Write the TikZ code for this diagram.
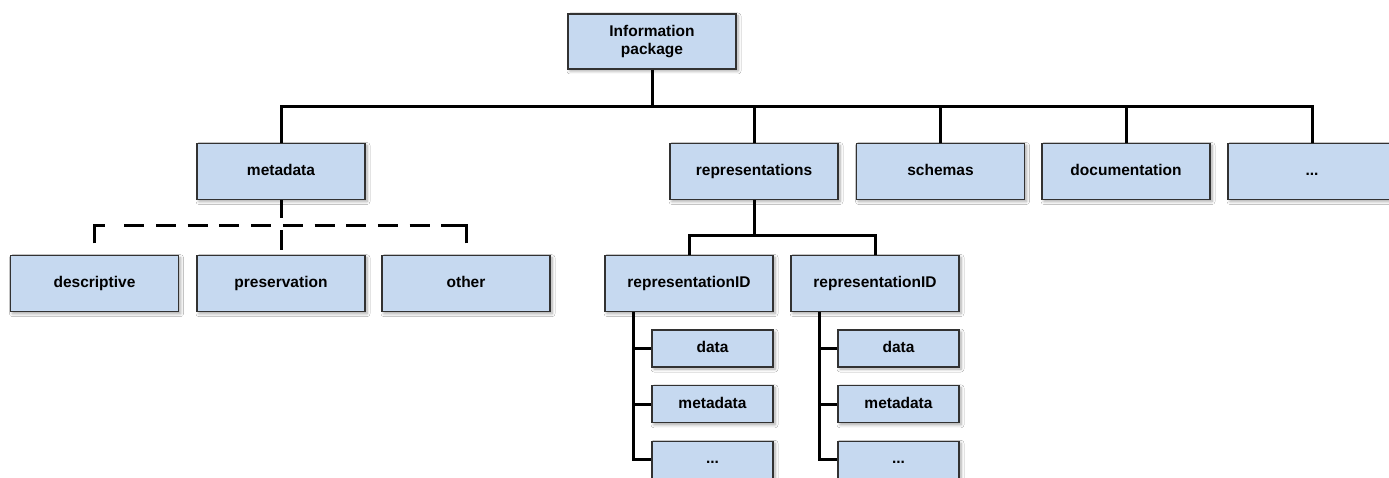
\documentclass[tikz,border=0pt]{standalone}
\usepackage{fontspec}
\setmainfont{Liberation Sans}
\usetikzlibrary{shadows.blur}
\definecolor{boxfill}{RGB}{198,217,240}
\definecolor{boxline}{RGB}{50,50,50}
\begin{document}
\begin{tikzpicture}[x=1pt,y=-1pt,
  basebox/.style={draw=boxline, fill=boxfill, line width=1.2pt,
    minimum width=168pt, minimum height=56pt, inner sep=0pt,
    font=\fontsize{15.5}{18.5}\selectfont\bfseries, align=center,
    blur shadow={shadow xshift=2pt, shadow yshift=-2pt, shadow blur steps=6, shadow blur radius=3pt, shadow opacity=35}},
  box/.style={basebox, text height=11.3pt, text depth=3.3pt},
  sub/.style={box, minimum width=121pt, minimum height=37pt},
  conn/.style={line width=3pt, black},
  dconn/.style={conn, dash pattern=on 20pt off 11.7pt},
]
\clip (0,0) rectangle (1389,478);
\fill[white] (0,0) rectangle (1389,478);
% nodes
\node[basebox, minimum height=55pt] (ip) at (652,41.5) {Information\\package};
\node[box] (md)   at (281,171.5)   {metadata};
\node[box] (rep)  at (754,171.5)   {representations};
\node[box] (sch)  at (940.5,171.5) {schemas};
\node[box] (doc)  at (1126,171.5)  {documentation};
\node[box] (more) at (1312,171.5)  {...};
\node[box] (desc) at (94.5,283.7)  {descriptive};
\node[box] (pres) at (281,283.7)   {preservation};
\node[box] (oth)  at (466,283.7)   {other};
\node[box] (r1) at (689,283.5) {representationID};
\node[box] (r2) at (875,283.5) {representationID};
\node[sub] (d1) at (712.5,348.5) {data};
\node[sub] (m1) at (712.5,404.3) {metadata};
\node[sub] (e1) at (712.5,459.8) {...};
\node[sub] (d2) at (898.5,348.5) {data};
\node[sub] (m2) at (898.5,404.3) {metadata};
\node[sub] (e2) at (898.5,459.8) {...};
% top bus
\coordinate (bus) at (0,106.5);
\draw[conn] (md.north) -- (md.north |- bus) -- (more.north |- bus) -- (more.north);
\draw[conn] (ip.south) -- (ip.south |- bus);
\draw[conn] (rep.north) -- (rep.north |- bus);
\draw[conn] (sch.north) -- (sch.north |- bus);
\draw[conn] (doc.north) -- (doc.north |- bus);
% metadata dashed bracket
\coordinate (dl) at (124.3,226);
\coordinate (dr) at (461.3,226);
\draw[conn, dash pattern=on 17.5pt off 12.5pt on 20pt off 100pt] (md.south) -- (pres.north);
\draw[dconn] (dl) -- (dr);
\draw[conn] ([yshift=11.7pt]desc.north) -- (desc.north |- dl) -- ++(10,0);
\draw[conn] ([yshift=11.7pt]oth.north) -- (oth.north |- dl) -- ++(-25,0);
% representations subtree
\coordinate (rbus) at (0,236);
\draw[conn] (rep.south) -- (rep.south |- rbus);
\draw[conn] (r1.north) -- (r1.north |- rbus) -- (r2.north |- rbus) -- (r2.north);
\coordinate (t1) at (633.3,0);
\coordinate (t2) at (819.3,0);
\draw[conn] (t1 |- r1.south) -- (t1 |- e1.west) -- (e1.west);
\draw[conn] (t1 |- d1.west) -- (d1.west);
\draw[conn] (t1 |- m1.west) -- (m1.west);
\draw[conn] (t2 |- r2.south) -- (t2 |- e2.west) -- (e2.west);
\draw[conn] (t2 |- d2.west) -- (d2.west);
\draw[conn] (t2 |- m2.west) -- (m2.west);
\end{tikzpicture}
\end{document}
